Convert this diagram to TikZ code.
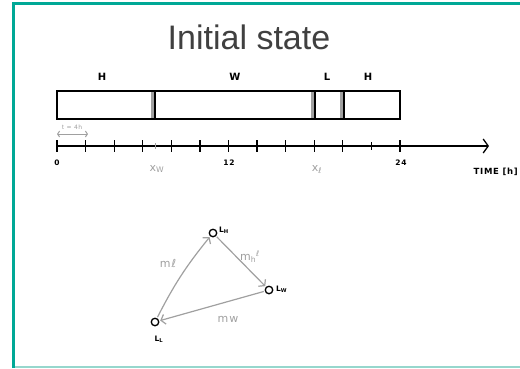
\documentclass[tikz,border=0pt]{standalone}
\usepackage{fontspec}
\setmainfont{Liberation Sans}
\newfontfamily\hand[LetterSpace=8]{DejaVu Sans}
\usetikzlibrary{arrows.meta}
\definecolor{teal1}{RGB}{0,168,150}
\definecolor{teal2}{RGB}{150,215,205}
\definecolor{titlegray}{RGB}{64,64,64}
\definecolor{lgray}{RGB}{160,160,160}
\begin{document}
\begin{tikzpicture}[x=1pt,y=-1pt,
  hw/.style={font=\hand\bfseries\fontsize{10}{10}\selectfont, inner sep=0},
  tiny/.style={font=\hand\bfseries\fontsize{7.5}{7.5}\selectfont, inner sep=0},
  glab/.style={font=\hand\fontsize{11}{11}\selectfont, text=lgray, inner sep=0},
  vtx/.style={circle, draw, line width=1.3pt, minimum size=7.5pt, inner sep=0},
  garrow/.style={lgray, line width=1.2pt, -{Straight Barb[length=4pt,width=10pt]}, shorten >=1pt, shorten <=1pt},
  tick/.style={line width=1.2pt}]
\useasboundingbox (0,0) rectangle (520,368);
% frame
\draw[teal2, line width=1.5pt] (13,367.2) -- (520,367.2);
\draw[teal1, line width=2.5pt] (13.5,368) -- (13.5,3.5) -- (520,3.5);
% title
\node[font=\fontsize{34}{34}\selectfont, text=titlegray, inner sep=0] (title) at (249,37) {Initial state};
% bar
\fill[lgray] (151,91) rectangle (154.5,119);
\fill[lgray] (311,91) rectangle (314.5,119);
\fill[lgray] (340,91) rectangle (343.5,119);
\draw[line width=1.3pt] (57,91) rectangle (400,119);
\draw[line width=1.3pt] (155,91) -- (155,119) (315,91) -- (315,119) (344,91) -- (344,119);
\node[hw] (lh1) at (102,77) {H};
\node[hw] (lw) at (235,77) {W};
\node[hw] (ll) at (327,77) {L};
\node[hw] (lh2) at (368,77) {H};
% t = 4h
\draw[lgray, line width=1pt, {Straight Barb[length=2pt,width=6pt]}-{Straight Barb[length=2pt,width=6pt]}] (57,134) -- (88,134);
\node[font=\hand\fontsize{6}{6}\selectfont, text=lgray, inner sep=0] (tlab) at (72,127) {t = 4h};
% axis
\draw[line width=1.3pt, -{Straight Barb[length=5pt,width=14pt]}] (57,146) -- (489,146);
\foreach \i in {0,...,10,12} \draw[tick] ({57+\i*343/12},140) -- ++(0,12);
\draw[tick] ({57+11*343/12},142) -- ++(0,8);
\draw[lgray, line width=1pt] (155,143) -- (155,149);
\node[tiny] (t0) at (57,163) {0};
\node[tiny] (t12) at (229,163) {12};
\node[tiny] (t24) at (401,163) {24};
\node[glab] (xw) at (157,169) {x\textsubscript{W}};
\node[glab] (xl) at (317,170) {x\textsubscript{ℓ}};
\node[font=\hand\bfseries\fontsize{8.5}{8.5}\selectfont, inner sep=0, anchor=east] (time) at (518,172) {TIME [h]};
% graph
\node[vtx] (LH) at (213,233) {};
\node[vtx] (LW) at (269,290) {};
\node[vtx] (LL) at (155,322) {};
\node[tiny, anchor=west] (LHl) at (219,230) {L\textsubscript{H}};
\node[tiny, anchor=west] (LWl) at (276,289) {L\textsubscript{W}};
\node[tiny] (LLl) at (159,339) {L\textsubscript{L}};
\draw[garrow] (LL) to[bend left=6] (LH);
\draw[garrow] (LH) -- (LW);
\draw[garrow] (LW) -- (LL);
\node[glab] (ml) at (168,263) {mℓ};
\node[glab] (mh) at (250,257) {m\textsubscript{h}\textsuperscript{ℓ}};
\node[glab] (mw) at (228,319) {mw};
\end{tikzpicture}
\end{document}
